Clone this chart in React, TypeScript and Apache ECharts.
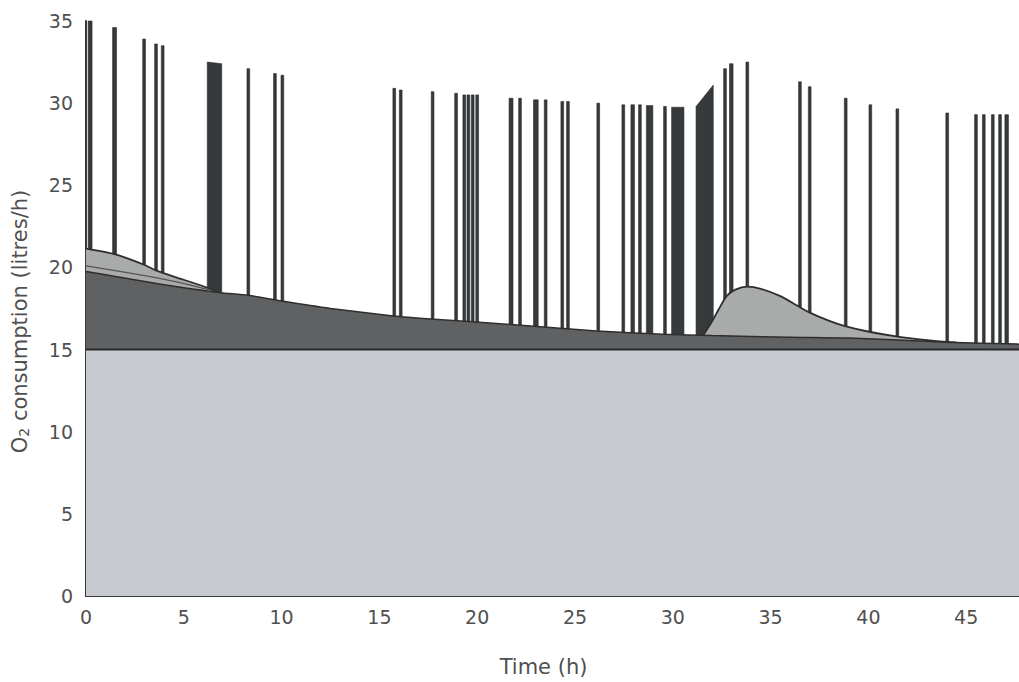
import React, { useEffect, useRef } from "react";
import * as echarts from "echarts";

// Time ticks / axis
const xTicks = [0, 5, 10, 15, 20, 25, 30, 35, 40, 45];
const yTicks = [0, 5, 10, 15, 20, 25, 30, 35];

// Basal consumption level (litres/h)
const baseLevel = 15;
const baseTimes = [0, 47.7];

// Dark band top (time h, litres/h)
const darkCurve: [number, number][] = [
  [0, 19.75], [1.5, 19.45], [3, 19.15], [4.5, 18.85], [6, 18.6], [7, 18.45],
  [8.3, 18.3], [10, 17.95], [12.5, 17.5], [15.7, 17.05], [17.8, 16.85],
  [21.7, 16.53], [26.1, 16.13], [29.5, 15.93], [32, 15.85], [36, 15.75],
  [39, 15.7], [44, 15.45], [47.7, 15.33],
];

// Light (hatched) band top: early recovery and post-event bump
const lightCurve: ([number, number] | [number, null])[] = [
  [0, 21.15], [1.5, 20.8], [3, 20.15], [3.6, 19.8], [5, 19.25], [6.2, 18.77], [6.6, 18.55],
  [7, null],
  [31.55, 15.85], [32.0, 16.7], [32.35, 17.45], [32.75, 18.25], [33.2, 18.65],
  [33.8, 18.83], [34.5, 18.7], [35.5, 18.25], [36.4, 17.65], [37, 17.25],
  [38, 16.75], [38.8, 16.43], [40.1, 16.07], [41.5, 15.79], [43, 15.58],
  [44, 15.47], [44.5, 15.44],
];

// Inner boundary line inside the early light band
const midCurve: [number, number][] = [
  [0, 20.1], [1.5, 19.8], [3, 19.5], [4.5, 19.15], [5.6, 18.85], [6.4, 18.6],
];

// Activity spikes: [start h, end h, top at start, top at end]
const spikes: [number, number, number, number][] = [
  [0.11, 0.31, 35.0, 35.0],
  [1.36, 1.56, 34.6, 34.6],
  [2.9, 3.04, 33.9, 33.9],
  [3.51, 3.65, 33.6, 33.6],
  [3.85, 3.99, 33.5, 33.5],
  [6.2, 6.94, 32.5, 32.4],
  [8.23, 8.37, 32.1, 32.1],
  [9.59, 9.73, 31.8, 31.8],
  [9.97, 10.11, 31.7, 31.7],
  [15.69, 15.83, 30.9, 30.9],
  [16.02, 16.16, 30.8, 30.8],
  [17.65, 17.79, 30.7, 30.7],
  [18.85, 18.99, 30.6, 30.6],
  [19.27, 19.41, 30.5, 30.5],
  [19.48, 19.62, 30.5, 30.5],
  [19.7, 19.84, 30.5, 30.5],
  [19.93, 20.07, 30.5, 30.5],
  [21.63, 21.83, 30.3, 30.3],
  [22.12, 22.26, 30.3, 30.3],
  [22.88, 23.12, 30.2, 30.2],
  [23.43, 23.57, 30.2, 30.2],
  [24.28, 24.42, 30.1, 30.1],
  [24.57, 24.71, 30.1, 30.1],
  [26.12, 26.26, 30.0, 30.0],
  [27.4, 27.54, 29.9, 29.9],
  [27.86, 28.04, 29.9, 29.9],
  [28.25, 28.39, 29.9, 29.9],
  [28.65, 28.98, 29.85, 29.85],
  [29.53, 29.67, 29.8, 29.8],
  [29.94, 30.57, 29.75, 29.75],
  [31.19, 32.07, 29.8, 31.1],
  [32.6, 32.74, 32.1, 32.1],
  [32.9, 33.08, 32.4, 32.4],
  [33.74, 33.88, 32.5, 32.5],
  [36.43, 36.57, 31.3, 31.3],
  [36.93, 37.07, 31.0, 31.0],
  [38.77, 38.91, 30.3, 30.3],
  [40.03, 40.17, 29.9, 29.9],
  [41.41, 41.55, 29.65, 29.65],
  [43.96, 44.1, 29.4, 29.4],
  [45.43, 45.57, 29.3, 29.3],
  [45.83, 45.97, 29.3, 29.3],
  [46.29, 46.43, 29.3, 29.3],
  [46.66, 46.8, 29.3, 29.3],
  [46.98, 47.16, 29.3, 29.3],
];

const FONT = "DejaVu Sans, Verdana, sans-serif";
const TXT = "#505050";

export default function App() {
  const ref = useRef<HTMLDivElement>(null);
  useEffect(() => {
    document.body.style.margin = "0";
    const chart = echarts.init(ref.current!, null, { renderer: "svg" });
    const option: any = {
      animation: false,
      backgroundColor: "#ffffff",
      grid: { left: 86, right: 0, top: 21, bottom: 85, containLabel: false },
      xAxis: {
        type: "value",
        min: xTicks[0],
        max: baseTimes[1],
        interval: 5,
        name: "Time (h)",
        nameLocation: "middle",
        nameGap: 60,
        nameTextStyle: { fontFamily: FONT, fontSize: 21, color: TXT, padding: [0, 18, 0, 0] },
        axisLine: { show: true, lineStyle: { color: "#3a3a3a", width: 2 } },
        axisTick: { show: true, inside: true, length: 5, lineStyle: { color: "#3a3a3a", width: 2 } },
        axisLabel: {
          showMaxLabel: false,
          margin: 11,
          fontFamily: FONT,
          fontSize: 19,
          color: TXT,
        },
        splitLine: { show: false },
      },
      yAxis: {
        type: "value",
        min: yTicks[0],
        max: yTicks[yTicks.length - 1],
        interval: 5,
        name: "{a|O}{s|2}{a| consumption (litres/h)}",
        nameLocation: "middle",
        nameGap: 55,
        nameRotate: 90,
        nameTextStyle: {
          fontFamily: FONT,
          color: TXT,
          padding: [0, 26, 0, 0],
          rich: {
            a: { fontFamily: FONT, fontSize: 21, color: TXT },
            s: { fontFamily: FONT, fontSize: 14, color: TXT, verticalAlign: "bottom", padding: [9, 0, 0, 0] },
          },
        },
        axisLine: { show: true, lineStyle: { color: "#3a3a3a", width: 2 } },
        axisTick: { show: false },
        axisLabel: { margin: 13, fontFamily: FONT, fontSize: 19, color: TXT },
        splitLine: { show: false },
      },
      series: [
        {
          type: "custom",
          z: 1,
          data: spikes,
          encode: { x: [0, 1], y: [2, 3] },
          renderItem: (params: any, api: any) => {
            const s = api.value(0);
            const e = api.value(1);
            const t1 = api.value(2);
            const t2 = api.value(3);
            const p1 = api.coord([s, baseLevel]);
            const p2 = api.coord([s, t1]);
            const p3 = api.coord([e, t2]);
            const p4 = api.coord([e, baseLevel]);
            return {
              type: "polygon",
              shape: { points: [p1, p2, p3, p4] },
              style: { fill: "#363a3d", stroke: "#2a2a2a", lineWidth: 0.6 },
            };
          },
        },
        {
          type: "line",
          z: 2,
          data: lightCurve,
          showSymbol: false,
          smooth: 0.25,
          connectNulls: false,
          lineStyle: { color: "#2e2e2e", width: 1.8 },
          areaStyle: { color: "#a9abab", opacity: 1 },
        },
        {
          type: "line",
          z: 3,
          data: darkCurve,
          showSymbol: false,
          smooth: 0.2,
          lineStyle: { color: "#2e2e2e", width: 1.5 },
          areaStyle: { color: "#5f6163", opacity: 1 },
        },
        {
          type: "line",
          z: 3,
          data: midCurve,
          showSymbol: false,
          smooth: 0.2,
          lineStyle: { color: "#555555", width: 1.2 },
        },
        {
          type: "line",
          z: 4,
          data: baseTimes.map((t) => [t, baseLevel]),
          showSymbol: false,
          lineStyle: { color: "#2a2a2a", width: 2 },
          areaStyle: { color: "#c7cbcf", opacity: 1 },
        },
      ],
    };
    chart.setOption(option);
    return () => chart.dispose();
  }, []);
  return <div ref={ref} style={{ width: 1019, height: 682 }} />;
}
